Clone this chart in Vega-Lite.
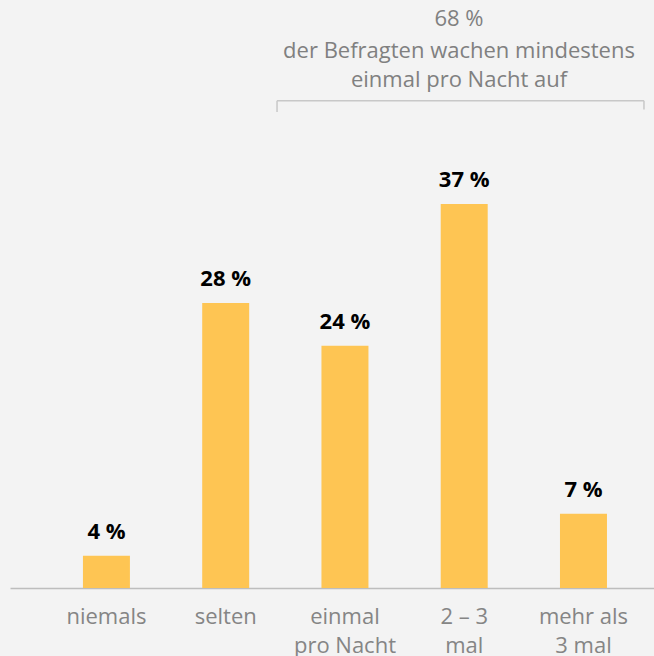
{
  "$schema": "https://vega.github.io/schema/vega-lite/v6.json",
  "autosize": "none",
  "padding": {"left": 10, "top": 0, "right": 0, "bottom": 68},
  "width": 644,
  "height": 588,
  "background": "#f3f3f3",
  "config": {"view": {"stroke": null}},
  "datasets": {
    "bars": [
      {"kategorie": "niemals", "pct": 3.1, "label": "4 %"},
      {"kategorie": "selten", "pct": 27.45, "label": "28 %"},
      {"kategorie": "einmal\npro Nacht", "pct": 23.35, "label": "24 %"},
      {"kategorie": "2 – 3\nmal", "pct": 37, "label": "37 %"},
      {"kategorie": "mehr als\n3 mal", "pct": 7.15, "label": "7 %"}
    ],
    "annotation": [
      {"pos": 3.956, "y": 54.1, "text": "68 %"},
      {"pos": 3.956, "y": 51.05, "text": "der Befragten wachen mindestens"},
      {"pos": 3.956, "y": 48.25, "text": "einmal pro Nacht auf"}
    ],
    "bracket": [
      {"start": 2.43, "end": 5.507, "y": 46.95}
    ],
    "ticks": [
      {"pos": 2.43, "top": 46.95, "bottom": 45.85},
      {"pos": 5.507, "top": 46.95, "bottom": 46.1}
    ]
  },
  "resolve": {"scale": {"x": "independent"}, "axis": {"x": "independent"}},
  "layer": [
    {
      "data": {"name": "bars"},
      "encoding": {
        "x": {
          "field": "kategorie",
          "type": "nominal",
          "sort": null,
          "scale": {"paddingInner": 0.606, "paddingOuter": 0.503, "align": 0.608},
          "axis": {
            "title": null,
            "ticks": false,
            "tickSize": 0,
            "labelAngle": 0,
            "labelFont": "Open Sans",
            "labelFontSize": 22,
            "labelColor": "#858585",
            "labelPadding": 35,
            "labelBaseline": "alphabetic",
            "labelLineHeight": 29,
            "domainColor": "#bdbdbd",
            "domainWidth": 1.5,
            "labelExpr": "split(datum.value, '\\n')"
          }
        },
        "y": {
          "field": "pct",
          "type": "quantitative",
          "scale": {"domain": [0, 56.65], "nice": false, "zero": true},
          "axis": null
        }
      },
      "layer": [
        {"mark": {"type": "bar", "color": "#fec553"}},
        {
          "mark": {
            "type": "text",
            "font": "Open Sans",
            "fontSize": 22,
            "fontWeight": "bold",
            "color": "#000000",
            "baseline": "alphabetic",
            "dy": -17
          },
          "encoding": {"text": {"field": "label"}}
        }
      ]
    },
    {
      "layer": [
        {
          "data": {"name": "annotation"},
          "mark": {
            "type": "text",
            "font": "Open Sans",
            "fontSize": 22,
            "color": "#808080",
            "baseline": "alphabetic",
            "align": "center"
          },
          "encoding": {
            "x": {"field": "pos", "type": "quantitative", "scale": {"domain": [0.191, 5.591], "nice": false, "zero": false}, "axis": null},
            "y": {"field": "y", "type": "quantitative", "scale": {"domain": [0, 56.65], "nice": false, "zero": true}, "axis": null},
            "text": {"field": "text"}
          }
        },
        {
          "data": {"name": "bracket"},
          "mark": {"type": "rule", "color": "#c8c8c8", "strokeWidth": 1.5},
          "encoding": {
            "x": {"field": "start", "type": "quantitative", "scale": {"domain": [0.191, 5.591], "nice": false, "zero": false}, "axis": null},
            "x2": {"field": "end"},
            "y": {"field": "y", "type": "quantitative", "scale": {"domain": [0, 56.65], "nice": false, "zero": true}, "axis": null}
          }
        },
        {
          "data": {"name": "ticks"},
          "mark": {"type": "rule", "color": "#c8c8c8", "strokeWidth": 1.5},
          "encoding": {
            "x": {"field": "pos", "type": "quantitative", "scale": {"domain": [0.191, 5.591], "nice": false, "zero": false}, "axis": null},
            "y": {"field": "top", "type": "quantitative", "scale": {"domain": [0, 56.65], "nice": false, "zero": true}, "axis": null},
            "y2": {"field": "bottom"}
          }
        }
      ]
    }
  ]
}
